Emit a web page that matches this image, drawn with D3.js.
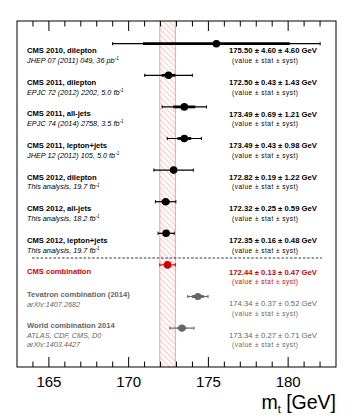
<!DOCTYPE html>
<html><head><meta charset="utf-8">
<script src="https://cdn.jsdelivr.net/npm/d3@7"></script>
<style>body{margin:0;background:#fff}svg{display:block;font-family:"Liberation Sans",Arial,Helvetica,sans-serif}</style>
</head><body>
<svg id="c" width="354" height="417"></svg>
<script>
// ---- data ----
const labels = ["CMS 2010, dilepton","CMS 2011, dilepton","CMS 2011, all-jets","CMS 2011, lepton+jets","CMS 2012, dilepton","CMS 2012, all-jets","CMS 2012, lepton+jets","CMS combination","Tevatron combination (2014)","World combination 2014"];
const refs = [["JHEP 07 (2011) 049, 36 pb","-1"],["EPJC 72 (2012) 2202, 5.0 fb","-1"],["EPJC 74 (2014) 2758, 3.5 fb","-1"],["JHEP 12 (2012) 105, 5.0 fb","-1"],["This analysis, 19.7 fb","-1"],["This analysis, 18.2 fb","-1"],["This analysis, 19.7 fb","-1"],null,["arXiv:1407.2682",""],["ATLAS, CDF, CMS, D0",""]];
const refs2 = [null,null,null,null,null,null,null,null,null,"arXiv:1403.4427"];
const values = [175.50,172.50,173.49,173.49,172.82,172.32,172.35,172.44,174.34,173.34];
const statErr = [4.60,0.43,0.69,0.43,0.19,0.25,0.16,0.13,0.37,0.27];
const systErr = [4.60,1.43,1.21,0.98,1.22,0.59,0.48,0.47,0.52,0.71];
const xTicks = [165,170,175,180];
const xDomain = [163,183];
const combIndex = 7;

// ---- layout ----
const svg = d3.select("#c");
const L=17, R=336, T=21, B=367;
const x = d3.scaleLinear().domain(xDomain).range([L,R]);
const y = d3.scaleLinear().domain([0,9]).range([43.7,328.1]);
const red="#d40000", grey="#666666";
const colorOf = i => i===combIndex ? red : (i>combIndex ? grey : "#000");
const tot = i => Math.sqrt(statErr[i]**2+systErr[i]**2);

// hatch pattern
const defs = svg.append("defs");
const pat = defs.append("pattern").attr("id","hatch").attr("patternUnits","userSpaceOnUse")
  .attr("width",4).attr("height",4).attr("patternTransform","rotate(-45)");
pat.append("line").attr("x1",0).attr("y1",0).attr("x2",0).attr("y2",4)
  .attr("stroke","#ff8f8f").attr("stroke-width",1);

// combination band
const cv = values[combIndex], ct = tot(combIndex);
svg.append("rect").attr("x",x(cv-ct)).attr("y",T).attr("width",x(cv+ct)-x(cv-ct)).attr("height",B-T)
  .attr("fill","url(#hatch)");
[cv-ct,cv+ct].forEach(v=>svg.append("line").attr("x1",x(v)).attr("x2",x(v)).attr("y1",T).attr("y2",B)
  .attr("stroke","#ff9a9a").attr("stroke-width",1));

// dashed separator
svg.append("line").attr("x1",32).attr("x2",322).attr("y1",258).attr("y2",258)
  .attr("stroke","#000").attr("stroke-width",0.8).attr("stroke-dasharray","2.5,1.8");

// axes ticks (top & bottom)
const minor = d3.range(xDomain[0]+1, xDomain[1]);
const gTicks = svg.append("g").attr("stroke","#000").attr("stroke-width",1);
minor.forEach(v=>{
  const major = xTicks.includes(v);
  const len = major ? 10 : 5.5;
  gTicks.append("line").attr("x1",x(v)).attr("x2",x(v)).attr("y1",B).attr("y2",B-len);
  gTicks.append("line").attr("x1",x(v)).attr("x2",x(v)).attr("y1",T).attr("y2",T+len);
});
svg.append("g").selectAll("text").data(xTicks).join("text")
  .attr("x",d=>x(d)).attr("y",387).attr("text-anchor","middle").attr("font-size",15).text(d=>d);

// frame
svg.append("rect").attr("x",L).attr("y",T).attr("width",R-L).attr("height",B-T)
  .attr("fill","none").attr("stroke","#000").attr("stroke-width",1);

// axis title
const at = svg.append("text").attr("x",R).attr("y",408.5).attr("text-anchor","end").attr("font-size",19.5);
at.append("tspan").text("m");
at.append("tspan").attr("font-size",11).attr("dy",4).text("t");
at.append("tspan").attr("dy",-4).text(" [GeV]");

// error bars & markers
const rows = svg.append("g");
values.forEach((v,i)=>{
  const c = colorOf(i), yy = y(i), t = tot(i), s = statErr[i];
  rows.append("line").attr("x1",x(v-t)).attr("x2",x(v+t)).attr("y1",yy).attr("y2",yy).attr("stroke",c).attr("stroke-width",1.2);
  [v-t,v+t].forEach(e=>rows.append("line").attr("x1",x(e)).attr("x2",x(e)).attr("y1",yy-1.6).attr("y2",yy+1.6).attr("stroke",c).attr("stroke-width",1));
  rows.append("line").attr("x1",x(v-s)).attr("x2",x(v+s)).attr("y1",yy).attr("y2",yy).attr("stroke",c).attr("stroke-width",2.8);
  rows.append("circle").attr("cx",x(v)).attr("cy",yy).attr("r",i>combIndex?3.6:3.8).attr("fill",c);
});

// labels
const txt = svg.append("g");
labels.forEach((lab,i)=>{
  const c = colorOf(i), yy = y(i);
  const off = i>combIndex ? -2.4 : 6.8;
  txt.append("text").attr("x",27).attr("y",yy+off).attr("dy","0.35em").attr("font-size",7.6)
    .attr("font-weight","bold").attr("fill",c).text(lab);
  if(refs[i]){
    const t = txt.append("text").attr("x",27).attr("y",yy+off+10).attr("dy","0.35em").attr("font-size",7.3)
      .attr("font-style","italic").attr("fill",c);
    t.append("tspan").text(refs[i][0]);
    if(refs[i][1]) t.append("tspan").attr("font-size",4.6).attr("dy",-2.8).text(refs[i][1]);
  }
  if(refs2[i]){
    txt.append("text").attr("x",27).attr("y",yy+off+19).attr("dy","0.35em").attr("font-size",7.3)
      .attr("font-style","italic").attr("fill",c).text(refs2[i]);
  }
  // value text
  txt.append("text").attr("x",229).attr("y",yy+7).attr("dy","0.35em").attr("font-size",7.7)
    .attr("font-weight",i>combIndex?"normal":"bold").attr("fill",c)
    .text(`${values[i].toFixed(2)} ± ${statErr[i].toFixed(2)} ± ${systErr[i].toFixed(2)} GeV`);
  txt.append("text").attr("x",232).attr("y",yy+17).attr("dy","0.35em").attr("font-size",6.4)
    .attr("textLength",66).attr("lengthAdjust","spacing")
    .attr("fill",c).text("(value ± stat ± syst)");
});
</script>
</body></html>
